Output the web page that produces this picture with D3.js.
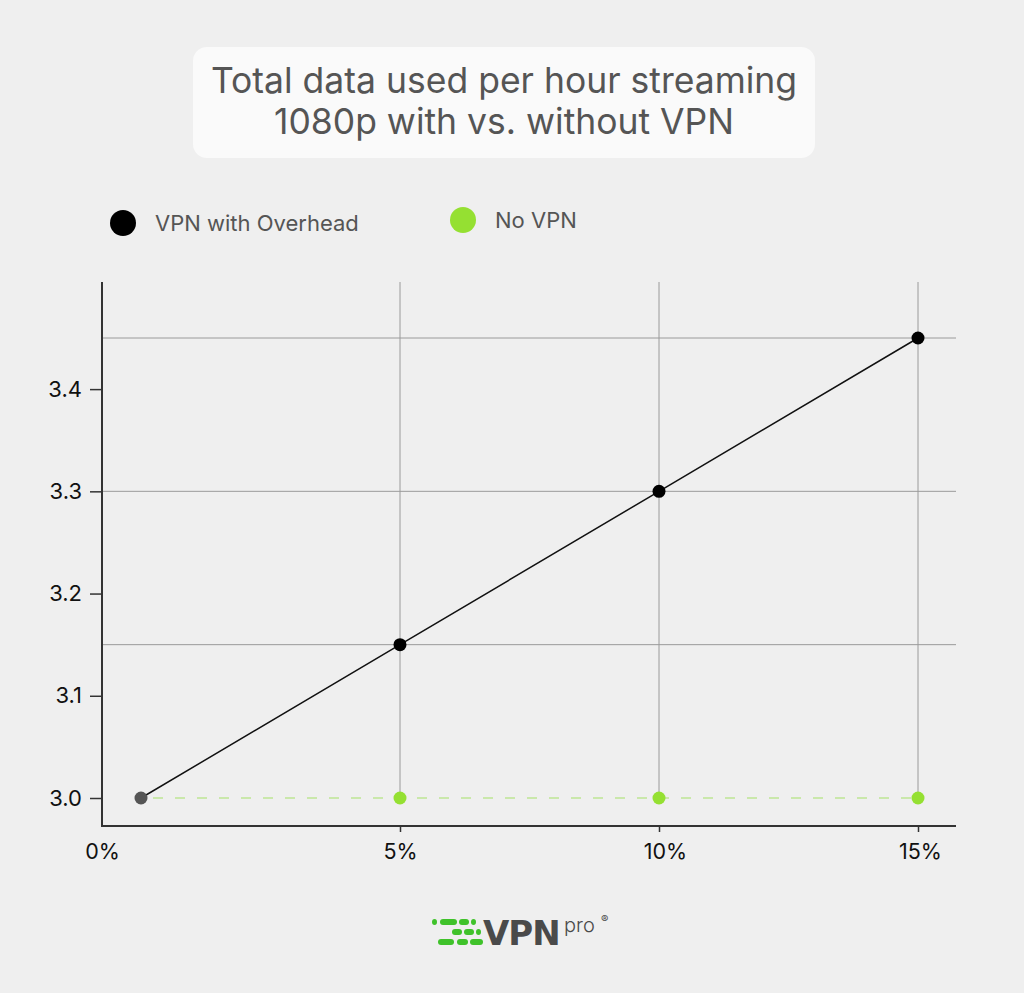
<!DOCTYPE html>
<html lang="en">
<head>
    <meta charset="UTF-8">
    <title>Total data used per hour streaming 1080p with vs. without VPN</title>
    <script src="https://d3js.org/d3.v7.min.js"></script>
    <style>
        html, body {
            margin: 0;
            padding: 0;
            background: #efefef;
        }
        body {
            font-family: Inter, "Noto Sans", Arial, sans-serif;
        }
        svg {
            display: block;
        }
    </style>
</head>
<body>
    <svg id="chart" width="1024" height="993"></svg>

    <script>
        // data
        const overheads = [0, 5, 10, 15];              // % overhead
        const vpnValues = [3.0, 3.15, 3.3, 3.45];      // GB per hour, VPN with overhead
        const noVpnValues = [3.0, 3.0, 3.0, 3.0];      // GB per hour, no VPN
        const yTicks = [3.0, 3.1, 3.2, 3.3, 3.4];
        const yGrid = [3.15, 3.3, 3.45];
        const xGrid = [5, 10, 15];
        const xTickLabels = ["0%", "5%", "10%", "15%"];
        const titleLines = ["Total data used per hour streaming", "1080p with vs. without VPN"];
        const seriesNames = ["VPN with Overhead", "No VPN"];

        const svg = d3.select("#chart");

        const plot = {left: 102, right: 956, top: 282, bottom: 826};

        const x = d3.scaleLinear().domain([0, 15]).range([141, 918]);
        const y = d3.scaleLinear().domain([3.0, 3.45]).range([798, 338]);

        // title card
        svg.append("rect")
            .attr("x", 193).attr("y", 47)
            .attr("width", 622).attr("height", 111)
            .attr("rx", 14)
            .attr("fill", "#fafafa");

        svg.append("g")
            .selectAll("text")
            .data(titleLines)
            .join("text")
            .attr("x", 504)
            .attr("y", (d, i) => 93 + i * 41)
            .attr("text-anchor", "middle")
            .attr("font-size", 35.5)
            .attr("fill", "#555")
            .text(d => d);

        // legend
        const legend = svg.append("g")
            .selectAll("g")
            .data(seriesNames)
            .join("g")
            .attr("transform", (d, i) => i === 0 ? "translate(123,223)" : "translate(463,220)");

        legend.append("circle")
            .attr("r", 13)
            .attr("fill", (d, i) => i === 0 ? "#000" : "#95e032");

        legend.append("text")
            .attr("x", 32)
            .attr("y", 8)
            .attr("font-size", 22)
            .attr("fill", "#555")
            .text(d => d);

        // grid
        svg.append("g")
            .selectAll("line")
            .data(yGrid)
            .join("line")
            .attr("x1", plot.left).attr("x2", plot.right)
            .attr("y1", d => y(d)).attr("y2", d => y(d))
            .attr("stroke", "#9a9a9a")
            .attr("stroke-width", 1);

        svg.append("g")
            .selectAll("line")
            .data(xGrid)
            .join("line")
            .attr("x1", d => x(d)).attr("x2", d => x(d))
            .attr("y1", plot.top).attr("y2", y(3.0))
            .attr("stroke", "#9a9a9a")
            .attr("stroke-width", 1);

        // y axis
        const yAxis = svg.append("g")
            .attr("transform", `translate(${plot.left},0)`)
            .call(d3.axisLeft(y).tickValues(yTicks).tickSize(12).tickPadding(8).tickFormat(d3.format(".1f")));
        yAxis.select(".domain").remove();
        yAxis.selectAll(".tick line").attr("stroke", "#333").attr("stroke-width", 1.5);
        yAxis.selectAll(".tick text")
            .attr("font-family", "Inter, sans-serif")
            .attr("font-size", 22)
            .attr("fill", "#111");

        // x axis
        const xAxis = svg.append("g")
            .attr("transform", `translate(0,${plot.bottom})`)
            .call(d3.axisBottom(x).tickValues(overheads).tickSize(6).tickPadding(12)
                .tickFormat((d, i) => xTickLabels[i]));
        xAxis.select(".domain").remove();
        xAxis.selectAll(".tick line")
            .attr("stroke", "#333")
            .attr("stroke-width", 1.5)
            .attr("opacity", d => d === 0 ? 0 : 1);
        xAxis.selectAll(".tick text")
            .attr("font-family", "Inter, sans-serif")
            .attr("font-size", 21.5)
            .attr("fill", "#111")
            .attr("dx", d => d === 0 ? -39 : d === 10 ? 6 : d === 15 ? 2 : 0);

        // axis lines
        svg.append("line")
            .attr("x1", plot.left).attr("x2", plot.left)
            .attr("y1", plot.top).attr("y2", plot.bottom + 1)
            .attr("stroke", "#333").attr("stroke-width", 2);
        svg.append("line")
            .attr("x1", plot.left).attr("x2", plot.right)
            .attr("y1", plot.bottom).attr("y2", plot.bottom)
            .attr("stroke", "#333").attr("stroke-width", 2);

        // no VPN dashed line + points
        const noVpn = overheads.map((o, i) => ({o, v: noVpnValues[i]}));
        const vpn = overheads.map((o, i) => ({o, v: vpnValues[i]}));

        const line = d3.line().x(d => x(d.o)).y(d => y(d.v));

        svg.append("path")
            .datum(noVpn)
            .attr("d", line)
            .attr("fill", "none")
            .attr("stroke", "#bfe695")
            .attr("stroke-width", 1.5)
            .attr("stroke-dasharray", "10,12")
            .attr("stroke-dashoffset", -12);

        svg.append("g")
            .selectAll("circle")
            .data(noVpn.slice(1))
            .join("circle")
            .attr("cx", d => x(d.o))
            .attr("cy", d => y(d.v))
            .attr("r", 6.5)
            .attr("fill", "#95e032");

        svg.append("path")
            .datum(vpn)
            .attr("d", line)
            .attr("fill", "none")
            .attr("stroke", "#111")
            .attr("stroke-width", 1.5);

        svg.append("g")
            .selectAll("circle")
            .data(vpn)
            .join("circle")
            .attr("cx", d => x(d.o))
            .attr("cy", d => y(d.v))
            .attr("r", 6.5)
            .attr("fill", (d, i) => i === 0 ? "#555" : "#000");

        // logo
        const logoDashes = [
            [432, 922, 5], [440, 922, 17], [459, 922, 10], [471, 922, 5],
            [452, 932, 10], [464, 932, 10], [476, 932, 5],
            [438, 942, 16], [457, 942, 11], [470, 942, 13]
        ];
        const logo = svg.append("g");
        logo.selectAll("rect")
            .data(logoDashes)
            .join("rect")
            .attr("x", d => d[0])
            .attr("y", d => d[1] - 3)
            .attr("width", d => d[2])
            .attr("height", 6)
            .attr("rx", 3)
            .attr("fill", "#3fc22a");

        logo.append("text")
            .attr("x", 483)
            .attr("y", 945)
            .attr("font-family", "'DejaVu Sans', sans-serif")
            .attr("font-weight", 700)
            .attr("font-size", 34)
            .attr("letter-spacing", -1)
            .attr("fill", "#4a4a4a")
            .text("VPN");

        logo.append("text")
            .attr("x", 564)
            .attr("y", 932)
            .attr("font-size", 20)
            .attr("font-weight", 300)
            .attr("fill", "#4a4a4a")
            .text("pro");

        logo.append("text")
            .attr("x", 601)
            .attr("y", 923)
            .attr("font-size", 11)
            .attr("fill", "#4a4a4a")
            .text("®");
    </script>
</body>
</html>
